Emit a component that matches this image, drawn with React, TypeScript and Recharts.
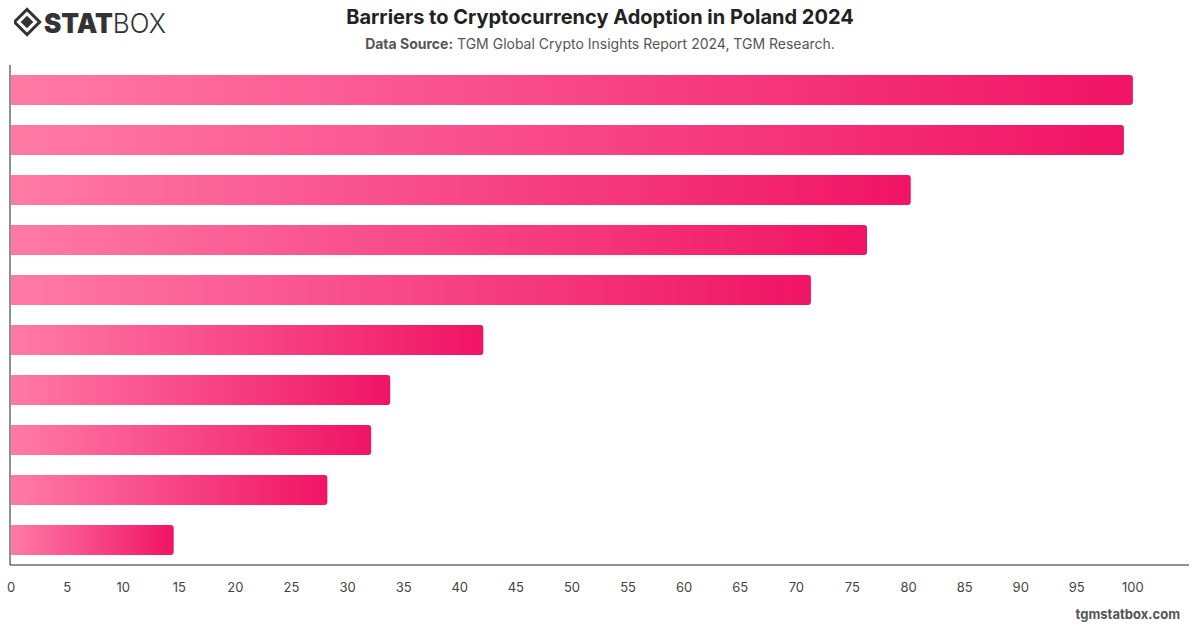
import { BarChart, Bar, XAxis, YAxis } from 'recharts'

const barriers = [
  'Security concerns',
  'Price volatility',
  'Lack of knowledge',
  'Regulatory uncertainty',
  'Fraud and scams',
  'Complexity of use',
  'Limited acceptance',
  'High fees',
  'Lack of trust',
  'Other',
]
const scores = [100, 99.2, 80.2, 76.3, 71.3, 42.1, 33.8, 32.1, 28.2, 14.5]
const xTicks = [0, 5, 10, 15, 20, 25, 30, 35, 40, 45, 50, 55, 60, 65, 70, 75, 80, 85, 90, 95, 100]

const data = barriers.map((name, i) => ({ name, value: scores[i] }))

const font = 'Inter, "Noto Sans", sans-serif'

function Logo() {
  return (
    <svg width={170} height={40} style={{ position: 'absolute', left: 14, top: 3 }}>
      <g transform="translate(13,19)">
        <rect x={-9} y={-9} width={18} height={18} transform="rotate(45)" fill="none" stroke="#333" strokeWidth={3} />
        <rect x={-4.5} y={-4.5} width={9} height={9} transform="rotate(45)" fill="#333" />
      </g>
      <text x={30} y={30} fontFamily={font} fontSize={27} fill="#333" textLength={122} lengthAdjust="spacingAndGlyphs">
        <tspan fontWeight={900}>STAT</tspan>
        <tspan fontWeight={300}>BOX</tspan>
      </text>
    </svg>
  )
}

export default function App() {
  return (
    <div style={{ position: 'absolute', left: 0, top: 0, width: 1200, height: 628, background: '#fff', fontFamily: font }}>
      <Logo />
      <div style={{ position: 'absolute', top: 5, width: 1200, textAlign: 'center', fontSize: 20, fontWeight: 700, color: '#222' }}>
        Barriers to Cryptocurrency Adoption in Poland 2024
      </div>
      <div style={{ position: 'absolute', top: 35, width: 1200, textAlign: 'center', fontSize: 14, color: '#555' }}>
        <b>Data Source:</b> TGM Global Crypto Insights Report 2024, TGM Research.
      </div>
      <div style={{ position: 'absolute', left: 0, top: 0 }}>
        <BarChart
          width={1200}
          height={628}
          data={data}
          layout="vertical"
          margin={{ top: 65, right: 11, left: 9, bottom: 33 }}
          barCategoryGap="20%"
        >
          <defs>
            <linearGradient id="barFill" x1="0" y1="0" x2="1" y2="0">
              <stop offset="0%" stopColor="#ff7aa6" />
              <stop offset="100%" stopColor="#f01464" />
            </linearGradient>
          </defs>
          <XAxis
            type="number"
            domain={[0, 105]}
            ticks={xTicks}
            interval={0}
            padding={{ left: 1 }}
            tickLine={false}
            axisLine={{ stroke: '#222' }}
            tick={{ fill: '#444', fontSize: 13, fontFamily: font }}
            tickMargin={12}
            height={30}
          />
          <YAxis
            type="category"
            dataKey="name"
            width={1}
            tick={false}
            tickLine={false}
            axisLine={{ stroke: '#222' }}
          />
          <Bar dataKey="value" fill="url(#barFill)" radius={[0, 3, 3, 0]} isAnimationActive={false} />
        </BarChart>
      </div>
      <div style={{ position: 'absolute', right: 20, top: 606, fontSize: 13, fontWeight: 700, color: '#555' }}>
        tgmstatbox.com
      </div>
    </div>
  )
}
